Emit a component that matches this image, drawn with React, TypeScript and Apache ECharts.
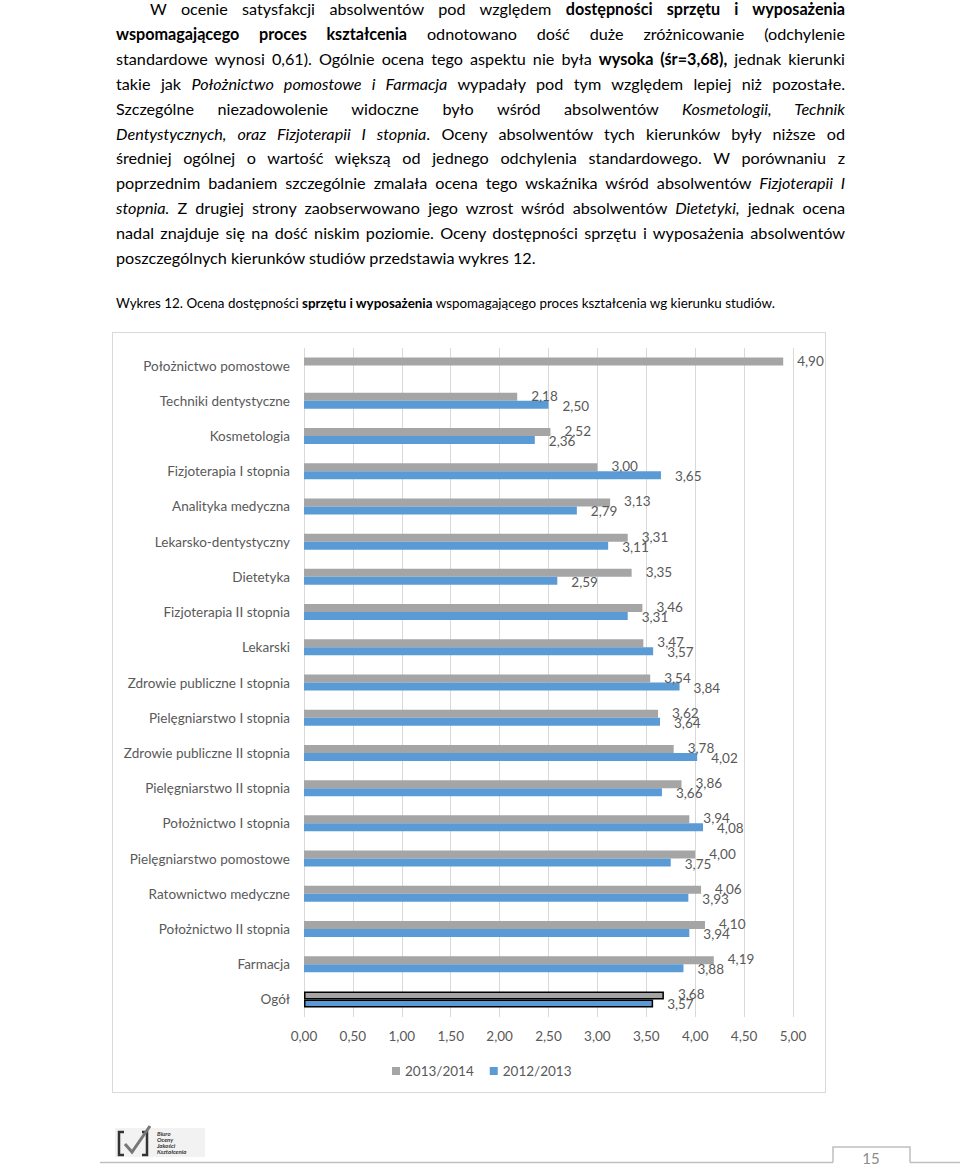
import React, { useEffect, useRef } from 'react';
import * as echarts from 'echarts';

const categories = [
  'Położnictwo pomostowe',
  'Techniki dentystyczne',
  'Kosmetologia',
  'Fizjoterapia I stopnia',
  'Analityka medyczna',
  'Lekarsko-dentystyczny',
  'Dietetyka',
  'Fizjoterapia II stopnia',
  'Lekarski',
  'Zdrowie publiczne I stopnia',
  'Pielęgniarstwo I stopnia',
  'Zdrowie publiczne II stopnia',
  'Pielęgniarstwo II stopnia',
  'Położnictwo I stopnia',
  'Pielęgniarstwo pomostowe',
  'Ratownictwo medyczne',
  'Położnictwo II stopnia',
  'Farmacja',
  'Ogół',
];

const values2013_2014 = [4.9, 2.18, 2.52, 3.0, 3.13, 3.31, 3.35, 3.46, 3.47, 3.54, 3.62, 3.78, 3.86, 3.94, 4.0, 4.06, 4.1, 4.19, 3.68];
const values2012_2013 = [null, 2.5, 2.36, 3.65, 2.79, 3.11, 2.59, 3.31, 3.57, 3.84, 3.64, 4.02, 3.66, 4.08, 3.75, 3.93, 3.94, 3.88, 3.57];

const seriesNames = ['2013/2014', '2012/2013'];
const seriesColors = ['#A5A5A5', '#5B9BD5'];
const highlightedCategory = 'Ogół';

type Seg = { t: string; b?: boolean; i?: boolean };
const paragraphLines: Seg[][] = [
  [{ t: 'W ocenie satysfakcji absolwentów pod względem ' }, { t: 'dostępności sprzętu i wyposażenia', b: true }],
  [{ t: 'wspomagającego proces kształcenia', b: true }, { t: ' odnotowano dość duże zróżnicowanie (odchylenie' }],
  [{ t: 'standardowe wynosi 0,61). Ogólnie ocena tego aspektu nie była ' }, { t: 'wysoka (śr=3,68),', b: true }, { t: ' jednak kierunki' }],
  [{ t: 'takie jak ' }, { t: 'Położnictwo pomostowe i Farmacja', i: true }, { t: ' wypadały pod tym względem lepiej niż pozostałe.' }],
  [{ t: 'Szczególne niezadowolenie widoczne było wśród absolwentów ' }, { t: 'Kosmetologii, Technik', i: true }],
  [{ t: 'Dentystycznych, oraz Fizjoterapii I stopnia', i: true }, { t: '. Oceny absolwentów tych kierunków były niższe od' }],
  [{ t: 'średniej ogólnej o wartość większą od jednego odchylenia standardowego. W porównaniu z' }],
  [{ t: 'poprzednim badaniem szczególnie zmalała ocena tego wskaźnika wśród absolwentów ' }, { t: 'Fizjoterapii I', i: true }],
  [{ t: 'stopnia.', i: true }, { t: ' Z drugiej strony zaobserwowano jego wzrost wśród absolwentów ' }, { t: 'Dietetyki,', i: true }, { t: ' jednak ocena' }],
  [{ t: 'nadal znajduje się na dość niskim poziomie. Oceny dostępności sprzętu i wyposażenia absolwentów' }],
  [{ t: 'poszczególnych kierunków studiów przedstawia wykres 12.' }],
];

const captionSegs: Seg[] = [
  { t: 'Wykres 12. Ocena dostępności ' },
  { t: 'sprzętu i wyposażenia', b: true },
  { t: ' wspomagającego proces kształcenia wg kierunku studiów.' },
];

const fmt = (v: number) => v.toFixed(2).replace('.', ',');

function Chart() {
  const ref = useRef<HTMLDivElement>(null);
  useEffect(() => {
    if (!ref.current) return;
    const chart = echarts.init(ref.current, undefined, { renderer: 'svg' });
    const mk = (vals: (number | null)[]) =>
      vals.map((v, idx) =>
        categories[idx] === highlightedCategory
          ? { value: v, itemStyle: { borderColor: '#000', borderWidth: 1.5 } }
          : v
      );
    const font = 'Lato, "Open Sans", sans-serif';
    const labelFmt = (p: any) => {
      const v = typeof p.value === 'number' ? p.value : p.value && p.value.value;
      return fmt(v);
    };
    chart.setOption({
      animation: false,
      textStyle: { fontFamily: font },
      grid: { left: 191, right: 32, top: 15, bottom: 75, containLabel: false },
      legend: {
        data: seriesNames,
        left: 274,
        top: 726,
        icon: 'rect',
        itemWidth: 8,
        itemHeight: 8,
        itemGap: 16,
        textStyle: { color: '#595959', fontSize: 13.5, fontFamily: font },
      },
      xAxis: {
        type: 'value',
        min: 0,
        max: 5,
        interval: 0.5,
        axisLine: { show: false },
        axisTick: { show: false },
        splitLine: { lineStyle: { color: '#D9D9D9', width: 1 } },
        axisLabel: { color: '#595959', fontSize: 13.5, margin: 12, fontFamily: font, formatter: (v: number) => fmt(v) },
      },
      yAxis: {
        type: 'category',
        data: categories,
        inverse: true,
        axisLine: { show: false },
        axisTick: { show: false },
        axisLabel: { color: '#595959', fontSize: 13.5, margin: 14, fontFamily: font },
      },
      series: [
        {
          name: seriesNames[0],
          type: 'bar',
          data: mk(values2013_2014),
          barWidth: 8,
          barGap: '0%',
          itemStyle: { color: seriesColors[0] },
          label: {
            show: true,
            position: 'right',
            distance: 14,
            offset: [0, -1],
            color: '#595959',
            fontSize: 13.5,
            fontFamily: font,
            formatter: labelFmt,
          },
        },
        {
          name: seriesNames[1],
          type: 'bar',
          data: mk(values2012_2013),
          barWidth: 8,
          barGap: '0%',
          itemStyle: { color: seriesColors[1] },
          label: {
            show: true,
            position: 'right',
            distance: 14,
            offset: [0, 1],
            color: '#595959',
            fontSize: 13.5,
            fontFamily: font,
            formatter: labelFmt,
          },
        },
      ],
    });
    return () => chart.dispose();
  }, []);
  return <div ref={ref} style={{ width: 712, height: 759 }} />;
}

function renderSegs(segs: Seg[]) {
  return segs.map((s, k) => (
    <span key={k} style={{ fontWeight: s.b ? 700 : 400, fontStyle: s.i ? 'italic' : 'normal' }}>
      {s.t}
    </span>
  ));
}

export default function App() {
  const lineH = 24.9;
  return (
    <div
      style={{
        position: 'absolute',
        left: 0,
        top: 0,
        width: 960,
        height: 1167,
        overflow: 'hidden',
        background: '#fff',
        fontFamily: 'Lato, "Open Sans", sans-serif',
      }}
    >
      {paragraphLines.map((segs, i) => {
        const last = i === paragraphLines.length - 1;
        const left = i === 0 ? 150 : 116;
        return (
          <div
            key={i}
            style={{
              position: 'absolute',
              left,
              top: 9.5 + i * lineH - lineH / 2,
              width: 845 - left,
              height: lineH,
              lineHeight: lineH + 'px',
              fontSize: 16.2,
              color: '#000',
              textAlign: last ? 'left' : 'justify',
              textAlignLast: last ? 'left' : 'justify',
            } as any}
          >
            {renderSegs(segs)}
          </div>
        );
      })}
      <div
        style={{
          position: 'absolute',
          left: 116,
          top: 303 - 10,
          height: 20,
          lineHeight: '20px',
          fontSize: 13.4,
          color: '#000',
          whiteSpace: 'nowrap',
        }}
      >
        {renderSegs(captionSegs)}
      </div>
      <div
        style={{
          position: 'absolute',
          left: 113,
          top: 333,
          width: 712,
          height: 759,
          border: '1px solid #D9D9D9',
          boxSizing: 'content-box',
          marginLeft: -1,
          marginTop: -1,
        }}
      >
        <Chart />
      </div>
      <svg style={{ position: 'absolute', left: 0, top: 1120 }} width={960} height={47}>
        <rect x={115} y={8} width={90} height={29} fill="#f2f2f2" />
        <path d="M124 12 L119 12 L119 35 L124 35" stroke="#333" strokeWidth={2.5} fill="none" />
        <path d="M142 12 L147 12 L147 35 L142 35" stroke="#333" strokeWidth={2.5} fill="none" />
        <path d="M125 24 L132 32 L150 6" stroke="#777" strokeWidth={3} fill="none" />
        <text x={157} y={16} fontSize={6} fontStyle="italic" fontWeight={700} fill="#333">Biuro</text>
        <text x={157} y={22} fontSize={6} fontStyle="italic" fontWeight={700} fill="#333">Oceny</text>
        <text x={157} y={28} fontSize={6} fontStyle="italic" fontWeight={700} fill="#333">Jakości</text>
        <text x={157} y={34} fontSize={6} fontStyle="italic" fontWeight={700} fill="#333">Kształcenia</text>
        <line x1={100} y1={42.5} x2={833} y2={42.5} stroke="#BFBFBF" strokeWidth={1.5} />
        <polyline points="833,42.5 833,27 910,27 910,42.5" stroke="#BFBFBF" strokeWidth={1.5} fill="none" />
        <line x1={910} y1={42.5} x2={960} y2={42.5} stroke="#BFBFBF" strokeWidth={1.5} />
        <text x={871} y={44} fontSize={15} fill="#8c8c8c" textAnchor="middle" fontFamily="Lato, sans-serif">15</text>
      </svg>
    </div>
  );
}
